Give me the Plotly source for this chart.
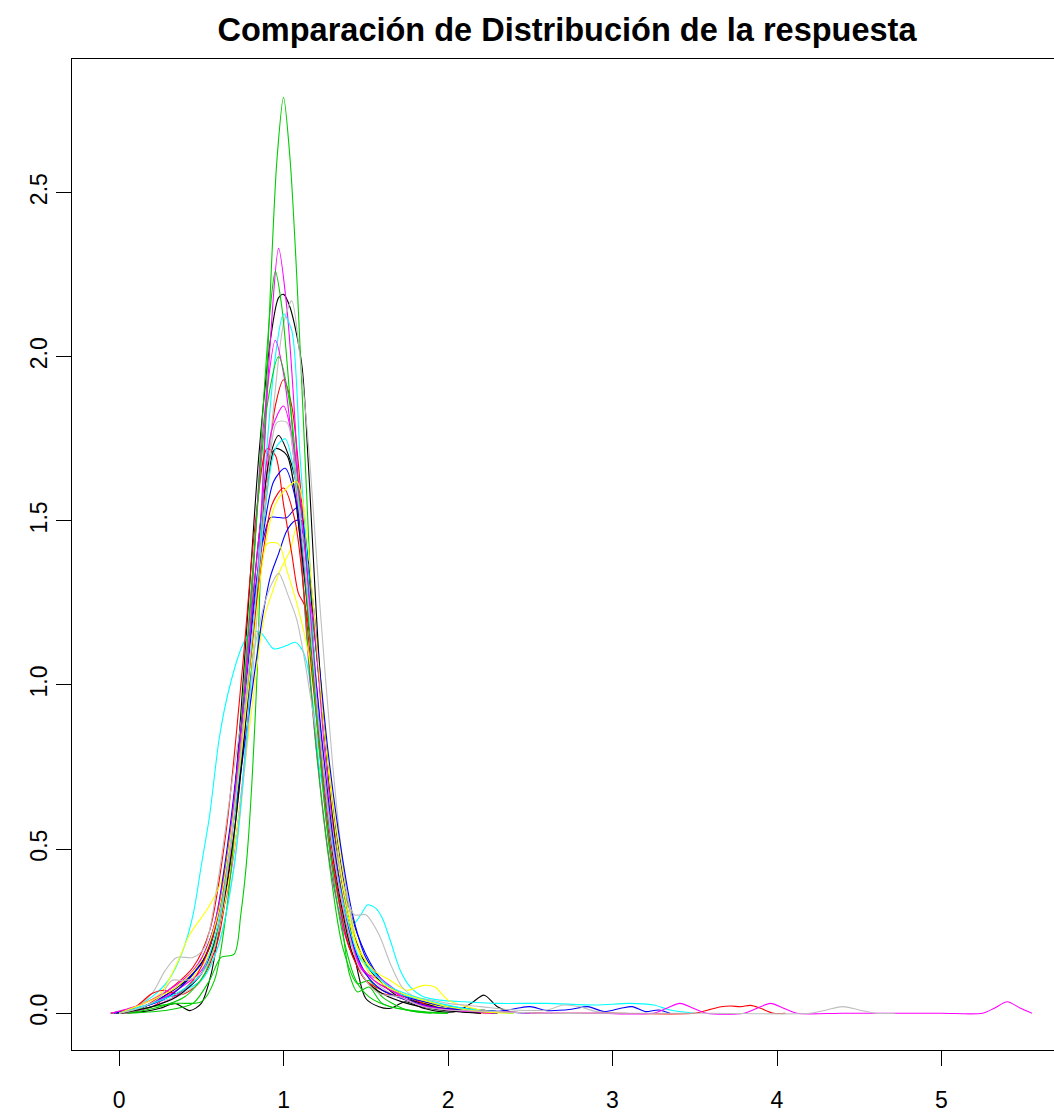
import plotly.graph_objects as go

# ---- density curves (x = respuesta, y = density) ----
black1_x = [-0.02, 0.15, 0.25, 0.34, 0.43, 0.5, 0.56, 0.62, 0.7, 0.78, 0.85, 0.92, 0.97, 1.0, 1.04, 1.11, 1.15, 1.22, 1.3, 1.37, 1.45, 1.5, 1.58, 1.65, 1.74, 1.85, 1.95, 2.05, 2.14, 2.22, 2.3, 2.4]
black1_y = [0.0, 0.005, 0.015, 0.03, 0.008, 0.03, 0.12, 0.3, 0.65, 1.2, 1.7, 2.05, 2.18, 2.19, 2.15, 1.98, 1.68, 1.05, 0.6, 0.38, 0.13, 0.045, 0.02, 0.015, 0.035, 0.015, 0.005, 0.005, 0.03, 0.055, 0.02, 0.0]

red1_x = [0.0, 0.2, 0.3, 0.4, 0.5, 0.6, 0.7, 0.8, 0.88, 0.95, 1.0, 1.05, 1.12, 1.2, 1.28, 1.36, 1.45, 1.55, 1.65, 1.8, 2.0, 2.2, 2.4]
red1_y = [0.0, 0.02, 0.05, 0.06, 0.1, 0.22, 0.55, 1.05, 1.55, 1.85, 1.93, 1.85, 1.5, 1.0, 0.6, 0.32, 0.16, 0.1, 0.07, 0.04, 0.02, 0.01, 0.0]

green1_x = [0.05, 0.3, 0.45, 0.55, 0.62, 0.7, 0.74, 0.78, 0.84, 0.88, 0.92, 0.96, 1.0, 1.04, 1.08, 1.13, 1.18, 1.22, 1.28, 1.34, 1.4, 1.45, 1.52, 1.6, 1.8, 2.0]
green1_y = [0.0, 0.01, 0.03, 0.1, 0.17, 0.18, 0.3, 0.49, 1.04, 1.69, 2.2, 2.6, 2.79, 2.6, 2.25, 1.7, 1.15, 0.8, 0.5, 0.33, 0.12, 0.065, 0.08, 0.03, 0.005, 0.0]

blue1_x = [-0.05, 0.15, 0.3, 0.45, 0.55, 0.65, 0.75, 0.83, 0.88, 0.92, 0.97, 1.02, 1.08, 1.12, 1.18, 1.25, 1.32, 1.4, 1.5, 1.6, 1.7, 1.85, 2.0, 2.2, 2.5]
blue1_y = [0.0, 0.02, 0.05, 0.12, 0.2, 0.45, 0.9, 1.3, 1.45, 1.51, 1.51, 1.51, 1.54, 1.45, 1.2, 0.85, 0.55, 0.32, 0.18, 0.1, 0.06, 0.03, 0.02, 0.01, 0.0]

cyan1_x = [-0.05, 0.1, 0.2, 0.3, 0.38, 0.45, 0.5, 0.55, 0.61, 0.67, 0.75, 0.8, 0.86, 0.94, 1.02, 1.07, 1.11, 1.14, 1.18, 1.22, 1.28, 1.33, 1.42, 1.47, 1.51, 1.56, 1.6, 1.65, 1.71, 1.77, 1.85, 1.95, 2.1, 2.3, 2.6, 2.9, 3.1, 3.25, 3.35, 3.5]
cyan1_y = [0.0, 0.02, 0.05, 0.1, 0.18, 0.3, 0.45, 0.6, 0.84, 0.99, 1.12, 1.16, 1.16, 1.11, 1.12, 1.13, 1.11, 1.07, 0.94, 0.74, 0.58, 0.45, 0.27, 0.3, 0.33, 0.32, 0.29, 0.22, 0.13, 0.08, 0.05, 0.04, 0.035, 0.03, 0.03, 0.025, 0.03, 0.025, 0.01, 0.0]

magenta1_x = [0.05, 0.3, 0.5, 0.65, 0.75, 0.85, 0.92, 0.97, 1.02, 1.07, 1.12, 1.2, 1.3, 1.4, 1.5, 1.6, 1.75, 2.0, 2.3]
magenta1_y = [0.0, 0.04, 0.12, 0.35, 0.7, 1.4, 2.05, 2.33, 2.15, 1.8, 1.3, 0.8, 0.4, 0.2, 0.12, 0.1, 0.05, 0.02, 0.0]

yellow1_x = [0.0, 0.2, 0.35, 0.5, 0.6, 0.7, 0.8, 0.88, 0.93, 0.98, 1.04, 1.08, 1.12, 1.17, 1.23, 1.3, 1.38, 1.46, 1.55, 1.65, 1.8, 1.95, 2.1, 2.3]
yellow1_y = [0.0, 0.03, 0.07, 0.14, 0.25, 0.5, 0.9, 1.2, 1.28, 1.35, 1.41, 1.48, 1.45, 1.25, 0.95, 0.65, 0.38, 0.2, 0.12, 0.08, 0.04, 0.02, 0.005, 0.0]

gray1_x = [0.0, 0.2, 0.35, 0.5, 0.6, 0.7, 0.8, 0.88, 0.95, 1.0, 1.05, 1.1, 1.16, 1.22, 1.3, 1.37, 1.45, 1.55, 1.65, 1.8, 2.0, 2.2]
gray1_y = [0.0, 0.03, 0.05, 0.1, 0.2, 0.45, 0.95, 1.5, 1.9, 2.1, 2.17, 2.0, 1.68, 1.25, 0.75, 0.42, 0.2, 0.1, 0.06, 0.03, 0.01, 0.0]

black2_x = [-0.05, 0.15, 0.3, 0.45, 0.55, 0.65, 0.75, 0.85, 0.92, 0.97, 1.03, 1.1, 1.17, 1.25, 1.32, 1.4, 1.5, 1.6, 1.7, 1.85, 2.0, 2.2]
black2_y = [0.0, 0.02, 0.06, 0.12, 0.2, 0.45, 0.9, 1.45, 1.7, 1.76, 1.7, 1.56, 1.25, 0.85, 0.5, 0.28, 0.15, 0.09, 0.05, 0.03, 0.01, 0.0]

red2_x = [0.0, 0.15, 0.3, 0.45, 0.55, 0.65, 0.75, 0.83, 0.9, 0.95, 1.0, 1.05, 1.09, 1.13, 1.18, 1.25, 1.32, 1.4, 1.5, 1.6, 1.75, 1.9, 2.1, 2.3]
red2_y = [0.0, 0.02, 0.07, 0.14, 0.25, 0.55, 1.05, 1.5, 1.72, 1.7, 1.55, 1.4, 1.28, 1.24, 1.05, 0.7, 0.4, 0.2, 0.1, 0.06, 0.05, 0.02, 0.005, 0.0]

green2_x = [0.0, 0.2, 0.35, 0.5, 0.58, 0.65, 0.72, 0.8, 0.87, 0.92, 0.95, 0.99, 1.05, 1.12, 1.2, 1.28, 1.36, 1.45, 1.52, 1.6, 1.75, 1.9]
green2_y = [0.0, 0.02, 0.03, 0.035, 0.1, 0.3, 0.65, 1.2, 1.8, 2.15, 2.26, 2.15, 1.8, 1.3, 0.8, 0.45, 0.2, 0.09, 0.1, 0.05, 0.01, 0.0]

blue2_x = [0.0, 0.2, 0.35, 0.5, 0.6, 0.7, 0.8, 0.87, 0.92, 0.97, 1.02, 1.07, 1.11, 1.15, 1.2, 1.27, 1.35, 1.42, 1.5, 1.6, 1.75, 1.9, 2.1, 2.3, 2.42, 2.5, 2.6, 2.75, 2.85, 2.95, 3.05, 3.12, 3.2, 3.28, 3.35]
blue2_y = [0.0, 0.03, 0.08, 0.15, 0.3, 0.6, 0.95, 1.2, 1.33, 1.4, 1.47, 1.5, 1.5, 1.38, 1.15, 0.8, 0.5, 0.3, 0.17, 0.1, 0.05, 0.03, 0.01, 0.005, 0.015, 0.02, 0.008, 0.012, 0.02, 0.005, 0.015, 0.02, 0.005, 0.01, 0.0]

cyan2_x = [0.0, 0.2, 0.35, 0.5, 0.6, 0.7, 0.8, 0.88, 0.95, 1.0, 1.05, 1.1, 1.17, 1.24, 1.3, 1.36, 1.42, 1.5, 1.6, 1.7, 1.85, 2.0, 2.2, 2.4]
cyan2_y = [0.0, 0.03, 0.06, 0.1, 0.2, 0.45, 1.0, 1.6, 2.0, 2.13, 2.08, 1.7, 1.2, 0.75, 0.45, 0.28, 0.2, 0.15, 0.1, 0.06, 0.04, 0.02, 0.01, 0.0]

magenta2_x = [0.0, 0.2, 0.35, 0.5, 0.6, 0.7, 0.8, 0.88, 0.95, 1.0, 1.06, 1.12, 1.18, 1.25, 1.33, 1.42, 1.5, 1.58, 1.65, 1.75, 1.9, 2.1, 2.3]
magenta2_y = [0.0, 0.03, 0.07, 0.13, 0.25, 0.6, 1.25, 1.8, 2.05, 1.95, 1.7, 1.35, 1.2, 0.8, 0.45, 0.21, 0.12, 0.11, 0.08, 0.04, 0.02, 0.005, 0.0]

yellow2_x = [-0.05, 0.1, 0.25, 0.35, 0.43, 0.54, 0.62, 0.7, 0.8, 0.86, 0.9, 0.97, 1.02, 1.08, 1.15, 1.22, 1.3, 1.38, 1.45, 1.55, 1.65, 1.75, 1.85, 1.92, 2.0, 2.15, 2.3]
yellow2_y = [0.0, 0.02, 0.06, 0.15, 0.24, 0.32, 0.4, 0.65, 1.1, 1.35, 1.43, 1.43, 1.35, 1.25, 1.1, 0.85, 0.55, 0.32, 0.2, 0.13, 0.1, 0.07, 0.085, 0.08, 0.04, 0.015, 0.0]

gray2_x = [-0.05, 0.1, 0.2, 0.28, 0.35, 0.45, 0.52, 0.6, 0.7, 0.8, 0.88, 0.93, 0.97, 1.03, 1.08, 1.12, 1.2, 1.28, 1.36, 1.43, 1.5, 1.58, 1.65, 1.72, 1.8, 1.9, 2.0, 2.2, 2.4, 2.6, 2.7, 2.8, 2.9, 3.1]
gray2_y = [0.0, 0.02, 0.06, 0.13, 0.17, 0.17, 0.2, 0.4, 0.75, 1.05, 1.24, 1.31, 1.34, 1.27, 1.2, 1.1, 0.85, 0.6, 0.4, 0.3, 0.3, 0.24, 0.15, 0.08, 0.05, 0.04, 0.03, 0.02, 0.01, 0.01, 0.025, 0.02, 0.005, 0.0]

black3_x = [0.0, 0.2, 0.35, 0.5, 0.6, 0.7, 0.8, 0.88, 0.95, 1.02, 1.1, 1.18, 1.26, 1.34, 1.42, 1.5, 1.6, 1.75, 1.95, 2.2]
black3_y = [0.0, 0.02, 0.05, 0.12, 0.25, 0.55, 1.05, 1.5, 1.72, 1.7, 1.45, 1.05, 0.65, 0.36, 0.18, 0.1, 0.06, 0.03, 0.01, 0.0]

red3_x = [-0.05, 0.1, 0.2, 0.27, 0.35, 0.45, 0.55, 0.65, 0.75, 0.85, 0.93, 1.0, 1.07, 1.15, 1.23, 1.3, 1.4, 1.5, 1.6, 1.75, 1.9, 2.1, 2.3, 2.6, 3.0, 3.5, 3.58, 3.66, 3.72, 3.78, 3.84, 3.9, 3.98, 4.05]
red3_y = [0.0, 0.02, 0.06, 0.07, 0.06, 0.1, 0.2, 0.42, 0.85, 1.3, 1.55, 1.6, 1.5, 1.15, 0.75, 0.45, 0.2, 0.1, 0.07, 0.04, 0.02, 0.01, 0.005, 0.0, 0.0, 0.0, 0.01, 0.02, 0.022, 0.02, 0.024, 0.015, 0.0, 0.0]

green3_x = [0.05, 0.25, 0.4, 0.52, 0.62, 0.72, 0.82, 0.9, 0.97, 1.04, 1.12, 1.2, 1.28, 1.36, 1.44, 1.52, 1.65, 1.85, 2.0]
green3_y = [0.0, 0.02, 0.05, 0.12, 0.3, 0.75, 1.4, 1.85, 2.0, 1.85, 1.4, 0.9, 0.5, 0.24, 0.1, 0.05, 0.02, 0.005, 0.0]

blue3_x = [-0.03, 0.15, 0.3, 0.45, 0.57, 0.67, 0.77, 0.86, 0.94, 1.01, 1.08, 1.15, 1.23, 1.31, 1.4, 1.5, 1.6, 1.75, 1.9, 2.1, 2.3]
blue3_y = [0.0, 0.02, 0.05, 0.12, 0.25, 0.55, 1.0, 1.4, 1.62, 1.66, 1.55, 1.25, 0.85, 0.5, 0.25, 0.12, 0.07, 0.04, 0.02, 0.01, 0.0]

cyan3_x = [0.0, 0.2, 0.35, 0.5, 0.6, 0.7, 0.8, 0.88, 0.95, 1.01, 1.08, 1.15, 1.22, 1.3, 1.38, 1.46, 1.55, 1.65, 1.8, 1.95, 2.15, 2.4]
cyan3_y = [0.0, 0.03, 0.06, 0.12, 0.27, 0.6, 1.1, 1.5, 1.72, 1.75, 1.6, 1.25, 0.85, 0.5, 0.3, 0.17, 0.12, 0.08, 0.05, 0.03, 0.01, 0.0]

magenta3_x = [-0.05, 0.15, 0.3, 0.45, 0.55, 0.65, 0.75, 0.85, 0.93, 1.0, 1.07, 1.15, 1.22, 1.3, 1.38, 1.46, 1.55, 1.65, 1.8, 2.0, 2.3, 2.55, 2.9, 3.25, 3.33, 3.41, 3.49, 3.57, 3.8, 3.88, 3.96, 4.04, 4.12, 4.4, 4.7, 5.0, 5.25, 5.32, 5.4, 5.48, 5.55]
magenta3_y = [0.0, 0.03, 0.07, 0.13, 0.22, 0.45, 0.9, 1.45, 1.78, 1.85, 1.7, 1.3, 0.85, 0.5, 0.28, 0.15, 0.1, 0.07, 0.03, 0.01, 0.005, 0.0, 0.0, 0.0, 0.015, 0.03, 0.015, 0.0, 0.0, 0.015, 0.03, 0.015, 0.0, 0.0, 0.0, 0.0, 0.0, 0.015, 0.035, 0.015, 0.0]

yellow3_x = [0.0, 0.2, 0.35, 0.5, 0.6, 0.7, 0.8, 0.88, 0.95, 1.02, 1.08, 1.12, 1.18, 1.25, 1.33, 1.42, 1.5, 1.6, 1.72, 1.85, 2.0, 2.2, 2.4]
yellow3_y = [0.0, 0.04, 0.08, 0.16, 0.3, 0.62, 1.05, 1.4, 1.55, 1.6, 1.62, 1.55, 1.25, 0.85, 0.5, 0.25, 0.14, 0.09, 0.06, 0.04, 0.02, 0.005, 0.0]

gray3_x = [0.0, 0.15, 0.25, 0.32, 0.4, 0.5, 0.58, 0.65, 0.73, 0.82, 0.9, 0.96, 1.02, 1.08, 1.15, 1.22, 1.3, 1.38, 1.45, 1.5, 1.58, 1.7, 1.85, 2.0, 2.3, 2.6, 3.0, 3.6, 4.2, 4.3, 4.4, 4.5, 4.6, 4.72]
gray3_y = [0.0, 0.02, 0.05, 0.1, 0.1, 0.12, 0.2, 0.4, 0.75, 1.2, 1.6, 1.8, 1.8, 1.6, 1.25, 0.85, 0.5, 0.28, 0.15, 0.1, 0.06, 0.05, 0.02, 0.01, 0.005, 0.0, 0.0, 0.0, 0.0, 0.01, 0.02, 0.01, 0.0, 0.0]

# R default palette order
curve_names = ["black1", "red1", "green1", "blue1", "cyan1", "magenta1", "yellow1", "gray1",
               "black2", "red2", "green2", "blue2", "cyan2", "magenta2", "yellow2", "gray2",
               "black3", "red3", "green3", "blue3", "cyan3", "magenta3", "yellow3", "gray3"]
palette = {"black": "#000000", "red": "#FF0000", "green": "#00CD00", "blue": "#0000FF",
           "cyan": "#00FFFF", "magenta": "#FF00FF", "yellow": "#FFFF00", "gray": "#BEBEBE"}

g = globals()
fig = go.Figure()
for name in curve_names:
    col = palette[name[:-1]]
    fig.add_trace(go.Scatter(x=g[name + "_x"], y=g[name + "_y"], mode="lines",
                             line=dict(color=col, width=1.1, shape="spline", smoothing=0.8),
                             showlegend=False, hoverinfo="skip"))

W, H = 1054, 1116
L, T, B = 72, 59, 1050
fig.update_layout(
    width=W, height=H,
    margin=dict(l=L, r=0, t=T, b=H - B, pad=0),
    paper_bgcolor="white", plot_bgcolor="white",
    font=dict(family="Liberation Sans, Arial, sans-serif", color="black"),
    title=dict(text="<b>Comparación de Distribución de la respuesta</b>",
               x=567 / W, xref="container", xanchor="center",
               y=1 - 30 / H, yref="container", yanchor="middle",
               font=dict(size=32.5, family="Liberation Sans, Arial, sans-serif", color="black")),
    xaxis=dict(range=[-0.286, 5.684], tickmode="array", tickvals=[0, 1, 2, 3, 4, 5],
               ticktext=["0", "1", "2", "3", "4", "5"],
               showgrid=False, zeroline=False, showline=True, linecolor="black", linewidth=1,
               mirror=True, ticks="outside", ticklen=15, tickcolor="black", tickwidth=1,
               tickfont=dict(size=23), ticklabelstandoff=14),
    yaxis=dict(range=[-0.112, 2.907], tickmode="array", tickvals=[0, 0.5, 1, 1.5, 2, 2.5],
               ticktext=["0.0", "0.5", "1.0", "1.5", "2.0", "2.5"],
               showgrid=False, zeroline=False, showline=True, linecolor="black", linewidth=1,
               ticks="outside", ticklen=15, tickcolor="black", tickwidth=1,
               tickangle=-90, tickfont=dict(size=23), ticklabelstandoff=0),
)
fig.write_html("out.html", config={"displayModeBar": False},
               post_script="document.body.style.margin='0';document.body.style.overflow='hidden';")
